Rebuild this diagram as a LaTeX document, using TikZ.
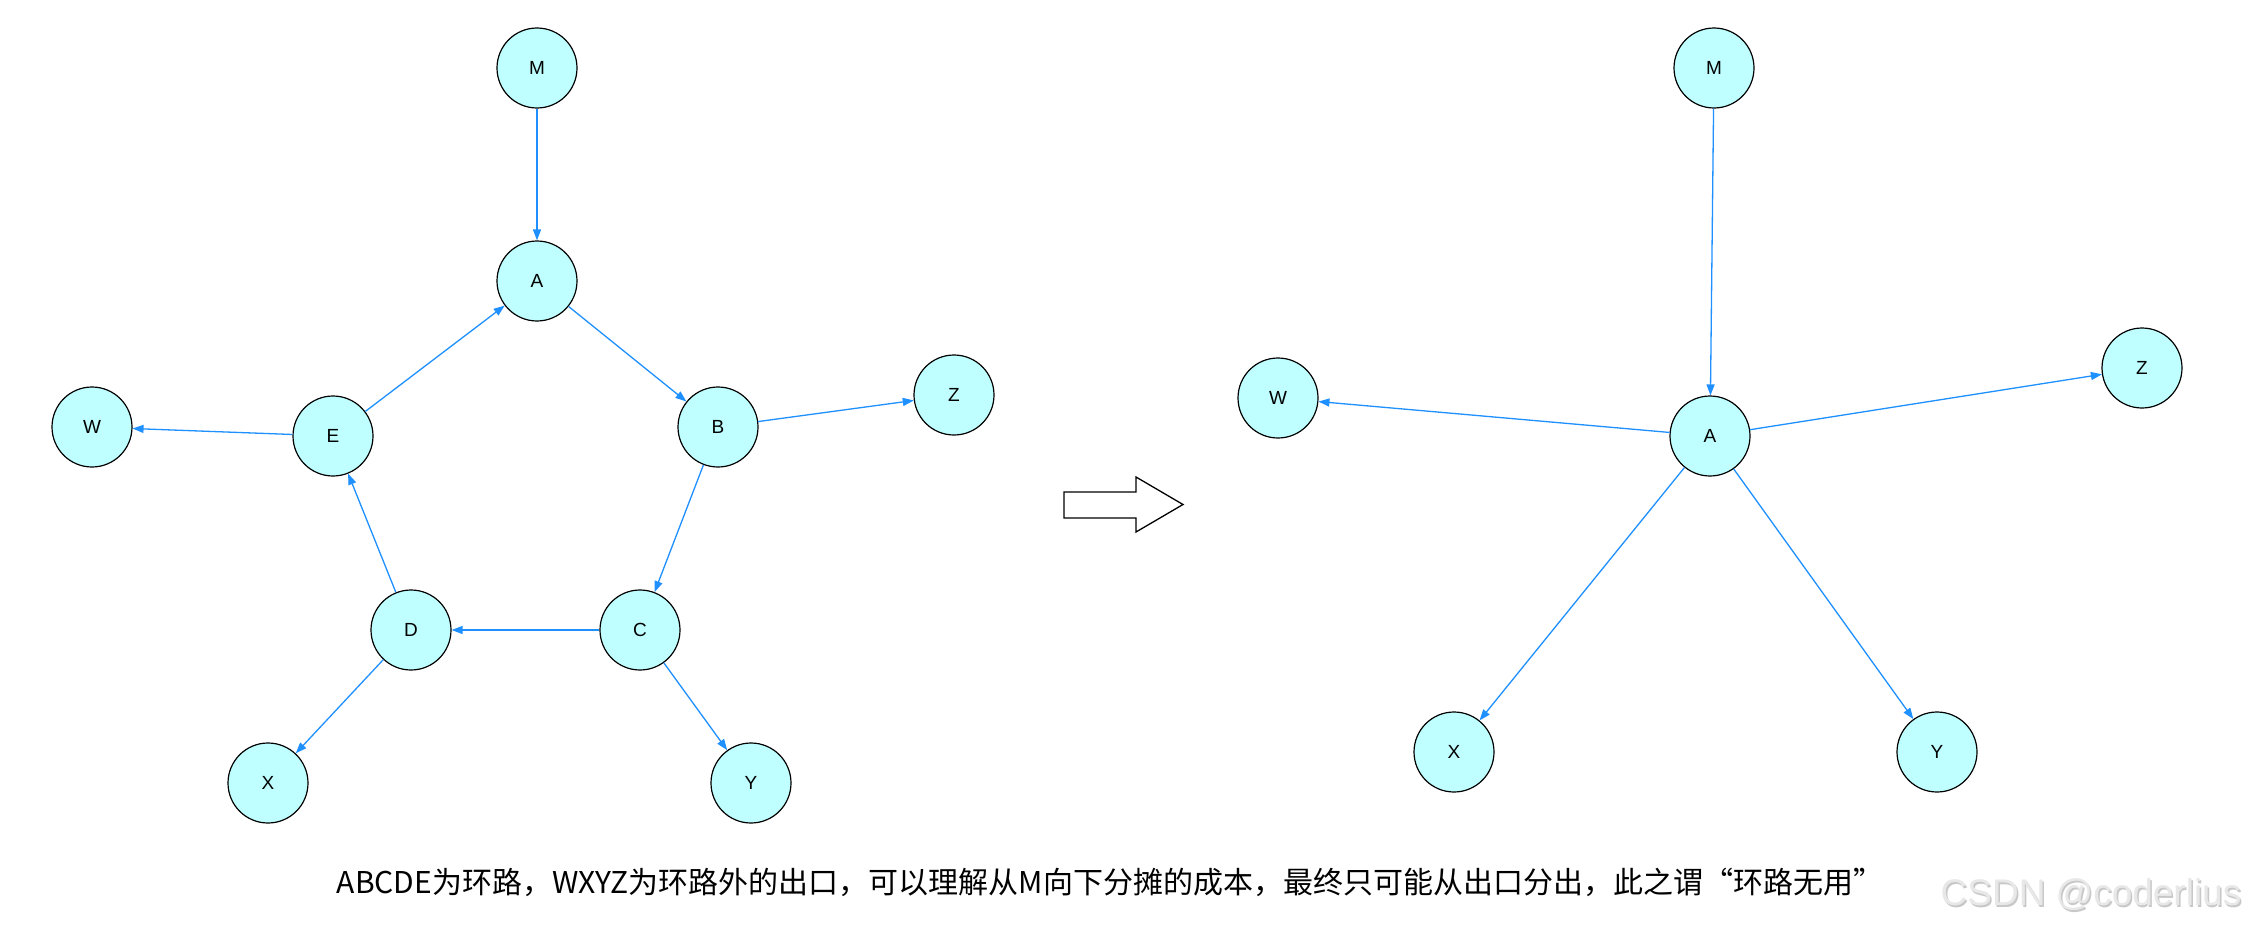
\documentclass[tikz,border=0pt]{standalone}
\usepackage{fontspec}
\setmainfont{Liberation Sans}
\newfontfamily\cjk{Noto Sans CJK SC}
\usetikzlibrary{arrows.meta}
\definecolor{nodefill}{RGB}{192,255,255}
\definecolor{edgeblue}{RGB}{30,144,255}
\definecolor{wmark}{RGB}{232,232,232}
\definecolor{wshadow}{RGB}{200,200,200}
\begin{document}
\begin{tikzpicture}[x=1pt,y=-1pt,
  vtx/.style={circle,draw=black,line width=1.2pt,fill=nodefill,minimum size=80pt,inner sep=0pt,font=\fontsize{19}{19}\selectfont},
  edge/.style={draw=edgeblue,line width=1.3pt,-{Triangle[length=11pt,width=8pt]}},
  bigarrow/.style={draw=black,line width=1.3pt,fill=white,line join=miter}]
\useasboundingbox[fill=white] (0,0) rectangle (2260,934);
% left graph
\node[vtx] (M) at (537,68) {M};
\node[vtx] (A) at (537,281) {A};
\node[vtx] (B) at (718,427) {B};
\node[vtx] (Z) at (954,395) {Z};
\node[vtx] (C) at (640,630) {C};
\node[vtx] (D) at (411,630) {D};
\node[vtx] (E) at (333,436) {E};
\node[vtx] (W) at (92,427) {W};
\node[vtx] (X) at (268,783) {X};
\node[vtx] (Y) at (751,783) {Y};
\draw[edge] (M) -- (A);
\draw[edge] (A) -- (B);
\draw[edge] (B) -- (Z);
\draw[edge] (B) -- (C);
\draw[edge] (C) -- (D);
\draw[edge] (C) -- (Y);
\draw[edge] (D) -- (E);
\draw[edge] (D) -- (X);
\draw[edge] (E) -- (A);
\draw[edge] (E) -- (W);
% big arrow
\draw[bigarrow] (1064,492) -- (1136,492) -- (1136,477) -- (1183,504.5) -- (1136,532) -- (1136,518) -- (1064,518) -- cycle;
% right graph
\node[vtx] (M2) at (1714,68) {M};
\node[vtx] (A2) at (1710,436) {A};
\node[vtx] (W2) at (1278,398) {W};
\node[vtx] (Z2) at (2142,368) {Z};
\node[vtx] (X2) at (1454,752) {X};
\node[vtx] (Y2) at (1937,752) {Y};
\draw[edge] (M2) -- (A2);
\draw[edge] (A2) -- (W2);
\draw[edge] (A2) -- (Z2);
\draw[edge] (A2) -- (X2);
\draw[edge] (A2) -- (Y2);
% caption
\node[font=\cjk\fontsize{30}{30}\selectfont] (cap) at (1110,882) {ABCDE为环路，WXYZ为环路外的出口，可以理解从M向下分摊的成本，最终只可能从出口分出，此之谓“环路无用”};
% watermark
\node[font=\fontsize{37}{37}\selectfont,text=wshadow] (wms) at (2092.5,896.5) {CSDN @coderlius};
\node[font=\fontsize{37}{37}\selectfont,text=wmark] (wm) at (2091,895) {CSDN @coderlius};
\end{tikzpicture}
\end{document}
